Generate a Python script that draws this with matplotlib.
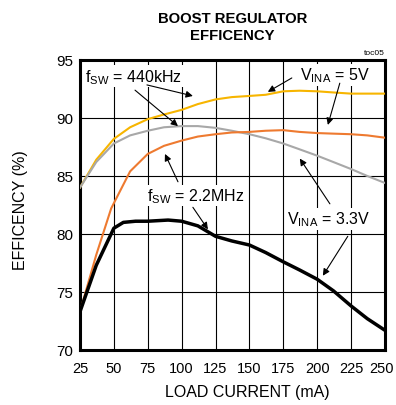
import numpy as np
import matplotlib.pyplot as plt
from matplotlib.transforms import ScaledTranslation

plt.rcParams['font.family'] = ['Liberation Sans', 'DejaVu Sans']

# load current (mA) and efficiency (%)
i_5v_440 = [25, 37, 50, 62, 75, 87, 100, 112, 125, 137, 150, 162, 175, 187, 200, 212, 225, 237, 250]
e_5v_440 = [84.0, 86.4, 88.2, 89.2, 89.9, 90.3, 90.7, 91.2, 91.6, 91.8, 91.9, 92.0, 92.3, 92.35, 92.3, 92.2, 92.1, 92.1, 92.1]

i_33_440 = [25, 37, 50, 62, 75, 87, 100, 112, 125, 137, 150, 162, 175, 187, 200, 212, 225, 237, 250]
e_33_440 = [84.0, 86.2, 87.8, 88.5, 88.9, 89.2, 89.3, 89.3, 89.15, 88.9, 88.6, 88.25, 87.8, 87.3, 86.75, 86.2, 85.6, 85.0, 84.4]

i_5v_22 = [25, 37, 48, 62, 75, 87, 100, 112, 125, 137, 150, 162, 175, 187, 200, 212, 225, 237, 250]
e_5v_22 = [73.3, 78.2, 82.2, 85.4, 86.9, 87.6, 88.05, 88.4, 88.6, 88.75, 88.8, 88.9, 88.95, 88.8, 88.7, 88.65, 88.6, 88.5, 88.3]

i_33_22 = [25, 37, 50, 57, 66, 75, 90, 100, 112, 125, 137, 150, 162, 175, 187, 200, 212, 225, 237, 250]
e_33_22 = [73.3, 77.3, 80.5, 81.0, 81.1, 81.1, 81.2, 81.1, 80.7, 79.8, 79.4, 79.05, 78.4, 77.6, 76.9, 76.1, 75.1, 73.8, 72.7, 71.7]

x_ticks = [25, 50, 75, 100, 125, 150, 175, 200, 225, 250]
y_ticks = [70, 75, 80, 85, 90, 95]

fig = plt.figure(figsize=(3.96, 4.06), dpi=100)
ax = fig.add_axes([0.202, 0.1355, 0.77, 0.7143])

ax.plot(i_5v_440, e_5v_440, color='#F7B500', lw=1.5, zorder=3)
ax.plot(i_33_440, e_33_440, color='#A8A8A8', lw=1.5, zorder=3)
ax.plot(i_5v_22, e_5v_22, color='#EE7A30', lw=1.5, zorder=3)
ax.plot(i_33_22, e_33_22, color='black', lw=2.5, zorder=4)

ax.set_xlim(25, 250)
ax.set_ylim(70, 95)
ax.set_xticks(x_ticks)
ax.set_yticks(y_ticks)
ax.tick_params(length=0, labelsize=11)
ax.tick_params(axis='y', pad=5)
ax.tick_params(axis='x', pad=8, labelsize=10.5)
ax.grid(True, color='black', lw=0.8)
for s in ax.spines.values():
    s.set_linewidth(2.2)

# keep the last x tick label inside the figure
last = ax.get_xticklabels()[-1]
last.set_transform(last.get_transform() + ScaledTranslation(-3 / 100, 0, fig.dpi_scale_trans))

ax.set_xlabel('LOAD CURRENT (mA)', fontsize=11.5)
ax.xaxis.set_label_coords(0.549, -0.118)
ax.set_ylabel('EFFICENCY (%)', fontsize=11.5)
ax.yaxis.set_label_coords(-0.17, 0.485)
ax.set_title('BOOST REGULATOR\nEFFICENCY', fontsize=10.7, fontweight='bold', pad=15, linespacing=1.25)
ax.text(1.0, 1.015, 'toc05', transform=ax.transAxes, ha='right', va='bottom', fontsize=6)

arrow = dict(arrowstyle='-|>', color='black', lw=0.8, mutation_scale=10, shrinkA=0, shrinkB=0)
bbox = dict(facecolor='white', edgecolor='none', pad=1)

ax.text(29.0, 93.6, r'f$_{\mathregular{SW}}$ = 440kHz', fontsize=11.5, va='center', ha='left', bbox=bbox, zorder=5)
ax.annotate('', xy=(108.3, 91.9), xytext=(74.4, 92.85), arrowprops=arrow, zorder=5)
ax.annotate('', xy=(97.3, 89.3), xytext=(65.6, 92.4), arrowprops=arrow, zorder=5)

ax.text(213, 93.7, r'V$_{\mathregular{INA}}$ = 5V', fontsize=11.5, va='center', ha='center', bbox=bbox, zorder=5)
ax.annotate('', xy=(163.6, 92.25), xytext=(181.3, 93.45), arrowprops=arrow, zorder=5)
ax.annotate('', xy=(207.9, 89.4), xytext=(216.7, 93.0), arrowprops=arrow, zorder=5)

ax.text(74.5, 83.3, r'f$_{\mathregular{SW}}$ = 2.2MHz', fontsize=11.5, va='center', ha='left', bbox=bbox, zorder=5)
ax.annotate('', xy=(87.7, 86.9), xytext=(97.3, 84.5), arrowprops=arrow, zorder=5)
ax.annotate('', xy=(119.4, 80.4), xytext=(108.3, 82.3), arrowprops=arrow, zorder=5)

ax.text(208.6, 81.3, r'V$_{\mathregular{INA}}$ = 3.3V', fontsize=11.5, va='center', ha='center', bbox=bbox, zorder=5)
ax.annotate('', xy=(187.2, 86.5), xytext=(209.4, 82.6), arrowprops=arrow, zorder=5)
ax.annotate('', xy=(204.2, 76.4), xytext=(222.6, 79.8), arrowprops=arrow, zorder=5)

fig.savefig('out.png', dpi=100)
